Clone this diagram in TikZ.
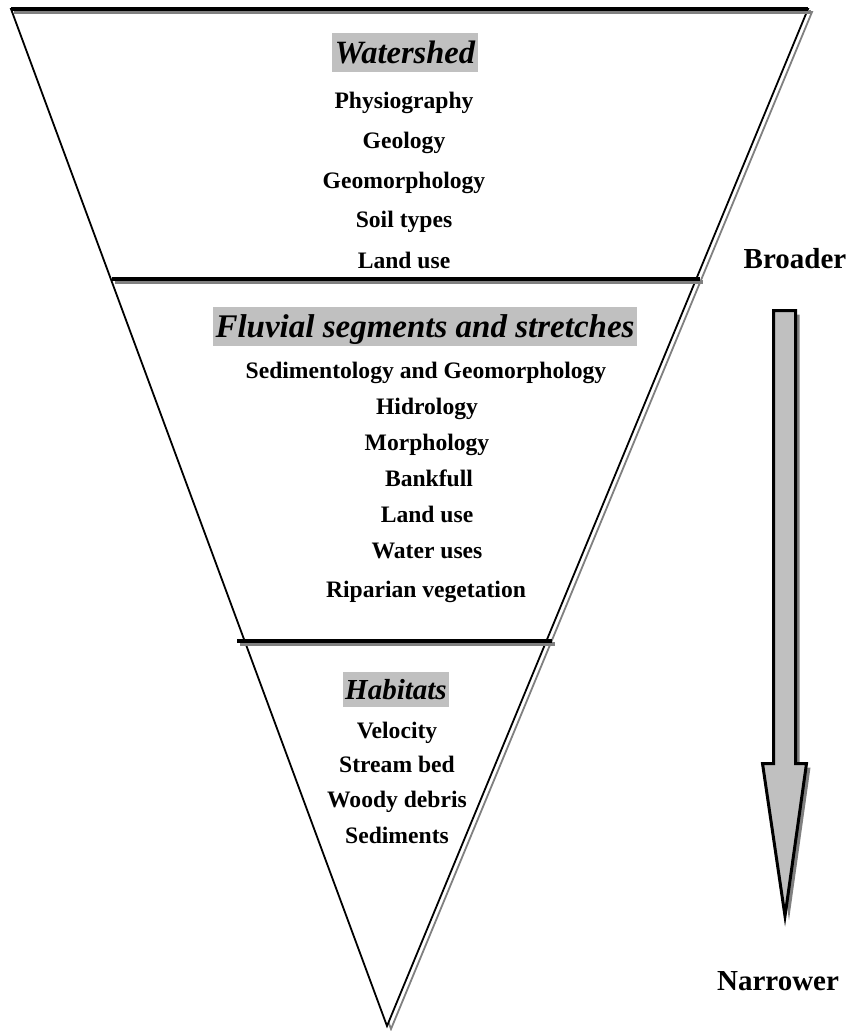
\documentclass[tikz,border=0pt]{standalone}
\usepackage{fontspec}
\setmainfont{Liberation Serif}
\usepackage{tikz}
\usepackage{xcolor}

\definecolor{boxgray}{RGB}{192,192,192}
\definecolor{shadowgray}{RGB}{128,128,128}

\tikzset{
  item/.style={anchor=base, inner sep=0pt, font=\fontsize{23.6}{28}\selectfont\bfseries},
  scaleword/.style={anchor=base, inner sep=0pt, font=\fontsize{29}{34}\selectfont\bfseries},
  title/.style={fill=boxgray, inner xsep=2.5pt, inner ysep=0pt},
  divider/.style={line width=3.4pt},
  divshadow/.style={shadowgray, line width=3.4pt}
}

\begin{document}
\begin{tikzpicture}[x=1pt, y=-1pt]
\useasboundingbox (0,0) rectangle (851,1031);

% funnel
\coordinate (tl) at (11,9);
\coordinate (tr) at (808,9);
\coordinate (tip) at (387,1026);
\draw[shadowgray, line width=1.8pt] ([shift={(4,3)}]tl) -- ([shift={(4,3)}]tr) -- ([shift={(4,3)}]tip) -- cycle;
\draw[fill=white, line width=1.8pt] (tl) -- (tr) -- (tip) -- cycle;
\draw[divshadow] ([shift={(3,3)}]tl) -- ([shift={(3,3)}]tr);
\draw[divider] (tl) -- (tr);

% dividers
\coordinate (d1l) at (112,279);
\coordinate (d1r) at (700,279);
\coordinate (d2l) at (237,641);
\coordinate (d2r) at (552,641);
\draw[divshadow] ([shift={(3,3)}]d1l) -- ([shift={(3,3)}]d1r);
\draw[divider] (d1l) -- (d1r);
\draw[divshadow] ([shift={(3,3)}]d2l) -- ([shift={(3,3)}]d2r);
\draw[divider] (d2l) -- (d2r);

% watershed
\node[title, text height=30pt, text depth=9pt, font=\fontsize{32.5}{38}\selectfont\bfseries\itshape] (watershed) at (405,52.5) {Watershed};
\node[item] (physio) at (404,108) {Physiography};
\node[item] (geology) at (404,148) {Geology};
\node[item] (geomorph) at (404,188) {Geomorphology};
\node[item] (soil) at (404,227) {Soil types};
\node[item] (landuse1) at (404,268) {Land use};

% fluvial segments
\node[title, text height=30.5pt, text depth=9pt, font=\fontsize{33}{39}\selectfont\bfseries\itshape] (fluvial) at (425,326.5) {Fluvial segments and stretches};
\node[item] (sedim) at (426,378) {Sedimentology and Geomorphology};
\node[item] (hidro) at (427,414) {Hidrology};
\node[item] (morph) at (427,450) {Morphology};
\node[item] (bank) at (429,486) {Bankfull};
\node[item] (landuse2) at (427,522) {Land use};
\node[item] (water) at (427,558) {Water uses};
\node[item] (riparian) at (426,597) {Riparian vegetation};

% habitats
\node[title, text height=27pt, text depth=8pt, font=\fontsize{29}{34}\selectfont\bfseries\itshape] (habitats) at (396,689.5) {Habitats};
\node[item] (velocity) at (397,738) {Velocity};
\node[item] (bed) at (397,772) {Stream bed};
\node[item] (woody) at (397,807) {Woody debris};
\node[item] (sediments) at (397,843) {Sediments};

% scale arrow
\fill[shadowgray, shift={(4,4)}] (773.5,310.5) -- (795.5,310.5) -- (795.5,763.5) -- (806.5,763.5) -- (785,916) -- (762.5,763.5) -- (773.5,763.5) -- cycle;
\draw[fill=boxgray, line width=3pt] (773.5,310.5) -- (795.5,310.5) -- (795.5,763.5) -- (806.5,763.5) -- (785,916) -- (762.5,763.5) -- (773.5,763.5) -- cycle;
\node[scaleword] (broader) at (795,268) {Broader};
\node[scaleword] (narrower) at (778,990) {Narrower};
\end{tikzpicture}
\end{document}
